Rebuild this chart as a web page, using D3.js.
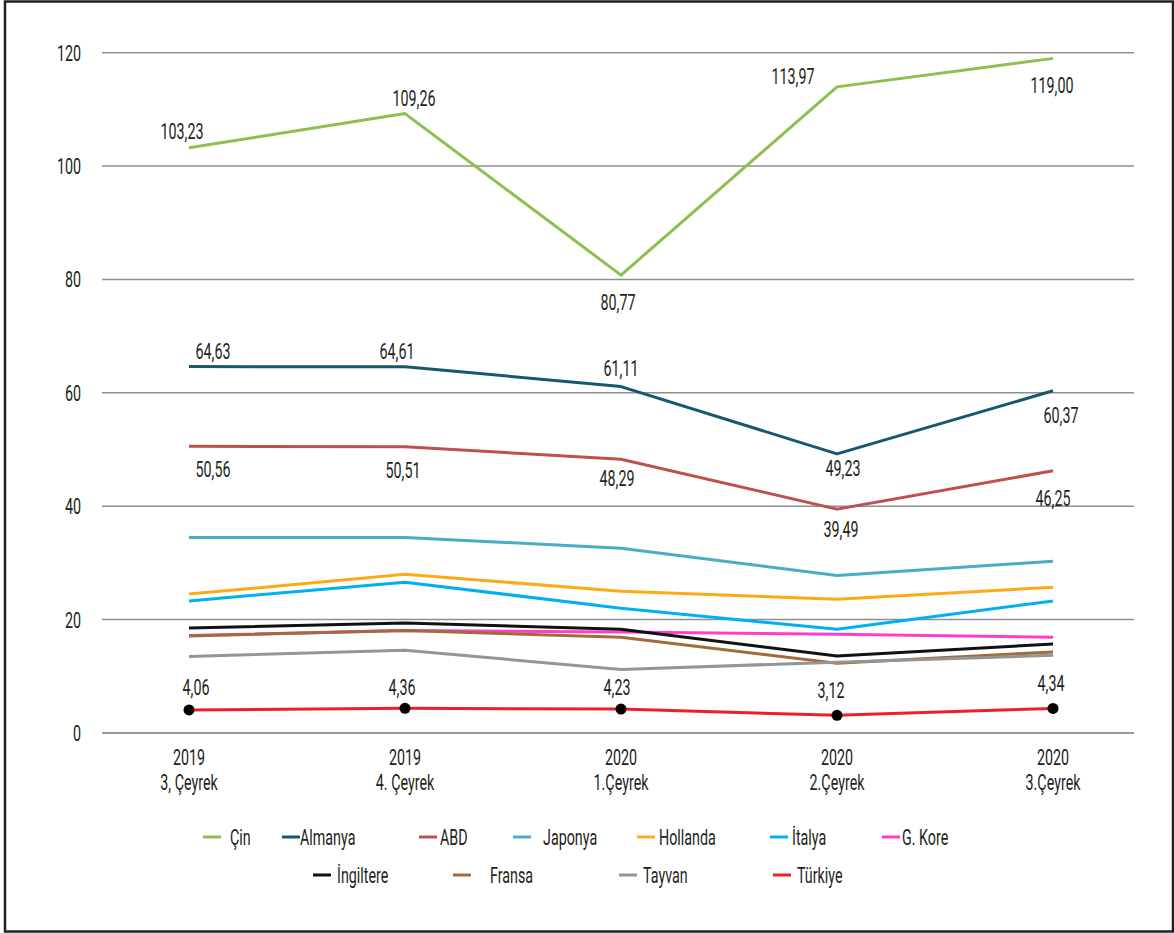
<!DOCTYPE html>
<html>
<head>
<meta charset="utf-8">
<script src="https://cdn.jsdelivr.net/npm/d3@7"></script>
<style>
  html, body { margin: 0; padding: 0; background: #fff; }
  svg { display: block; }
  text { font-family: Roboto, "Liberation Sans", sans-serif; fill: #231f20; }
</style>
</head>
<body>
<svg id="chart" width="1174" height="933"></svg>
<script>
// ---------- DATA ----------
const periods = ["2019|3, Çeyrek", "2019|4. Çeyrek", "2020|1.Çeyrek", "2020|2.Çeyrek", "2020|3.Çeyrek"];
const yTicks = [0, 20, 40, 60, 80, 100, 120];

const cin      = [103.23, 109.26, 80.77, 113.97, 119.00];
const almanya  = [64.63, 64.61, 61.11, 49.23, 60.37];
const abd      = [50.56, 50.51, 48.29, 39.49, 46.25];
const japonya  = [34.5, 34.5, 32.6, 27.8, 30.3];
const hollanda = [24.5, 28.0, 25.0, 23.6, 25.7];
const italya   = [23.3, 26.6, 22.0, 18.3, 23.3];
const gkore    = [17.2, 18.1, 17.8, 17.4, 16.9];
const ingiltere= [18.5, 19.4, 18.3, 13.6, 15.7];
const fransa   = [17.1, 18.1, 16.9, 12.3, 14.3];
const tayvan   = [13.5, 14.6, 11.2, 12.5, 13.7];
const turkiye  = [4.06, 4.36, 4.23, 3.12, 4.34];

const seriesNames = ["Çin", "Almanya", "ABD", "Japonya", "Hollanda", "İtalya", "G. Kore", "İngiltere", "Fransa", "Tayvan", "Türkiye"];
const seriesValues = [cin, almanya, abd, japonya, hollanda, italya, gkore, ingiltere, fransa, tayvan, turkiye];
const labelledSeries = ["Çin", "Almanya", "ABD", "Türkiye"];

// ---------- STYLE / LAYOUT ----------
const colors = {
  "Çin": "#8dc04f", "Almanya": "#17586e", "ABD": "#c0504d", "Japonya": "#4bacc6",
  "Hollanda": "#fbab18", "İtalya": "#00b0f0", "G. Kore": "#ff3ccc", "İngiltere": "#111111",
  "Fransa": "#a36a3a", "Tayvan": "#959595", "Türkiye": "#ed2024"
};
// label offsets (px) relative to each point: [dx, dy of text centre]
const labelOffsets = {
  "Çin":     [[-7,-17],[9,-16],[-3,27],[-44,-11],[-1,27]],
  "Almanya": [[24,-16],[-8,-16],[0,-18],[6,14],[8,24]],
  "ABD":     [[24,23],[-2,23],[-4,19],[4,20],[0,27]],
  "Türkiye": [[7,-23],[-3,-21],[-4,-22],[-6,-25],[-2,-25]]
};
const legendLayout = [
  {name:"Çin", lx:203, tx:230, row:0},
  {name:"Almanya", lx:282, tx:300, row:0},
  {name:"ABD", lx:419, tx:440, row:0},
  {name:"Japonya", lx:513, tx:543, row:0},
  {name:"Hollanda", lx:637, tx:659, row:0},
  {name:"İtalya", lx:770, tx:792, row:0},
  {name:"G. Kore", lx:882, tx:902, row:0},
  {name:"İngiltere", lx:313, tx:337, row:1},
  {name:"Fransa", lx:453, tx:490, row:1},
  {name:"Tayvan", lx:619, tx:643, row:1},
  {name:"Türkiye", lx:773, tx:797, row:1}
];
const rowY = [837, 875];
const FS = 22, SX = 0.65;

const svg = d3.select("#chart");

function addText(parent, x, y, str, anchor) {
  const g = parent.append("g").attr("transform", `translate(${x},${y}) scale(${SX},1)`);
  g.append("text").attr("text-anchor", anchor || "middle").attr("dy", "0.36em")
    .style("font-size", FS + "px").text(str);
  return g;
}

// border
svg.append("rect").attr("x", 5).attr("y", 1.5).attr("width", 1168).attr("height", 930)
  .attr("fill", "none").attr("stroke", "#222").attr("stroke-width", 2.5);

const x = d3.scalePoint().domain(periods).range([189, 1053]);
const y = d3.scaleLinear().domain([0, 120]).range([733, 52.7]);

// gridlines
const grid = svg.append("g");
grid.selectAll("line").data(yTicks).join("line")
  .attr("x1", 102).attr("x2", 1134)
  .attr("y1", d => y(d)).attr("y2", d => y(d))
  .attr("stroke", d => d === 0 ? "#7a7a7a" : "#8f8f8f").attr("stroke-width", 1.5);

// y tick labels
yTicks.forEach(t => addText(svg, 81, y(t), String(t), "end"));

// x labels
periods.forEach(p => {
  const [a, b] = p.split("|");
  addText(svg, x(p), 757, a, "middle");
  addText(svg, x(p), 782, b, "middle");
});

// lines
const line = d3.line().x((d, i) => x(periods[i])).y(d => y(d));
seriesNames.forEach((name, si) => {
  svg.append("path").datum(seriesValues[si])
    .attr("fill", "none").attr("stroke", colors[name]).attr("stroke-width", 3)
    .attr("stroke-linejoin", "round").attr("d", line);
});

// Türkiye markers
svg.append("g").selectAll("circle").data(turkiye).join("circle")
  .attr("cx", (d, i) => x(periods[i])).attr("cy", d => y(d)).attr("r", 5.5).attr("fill", "#000");

// data labels
const fmt = v => v.toFixed(2).replace(".", ",");
labelledSeries.forEach(name => {
  const vals = seriesValues[seriesNames.indexOf(name)];
  vals.forEach((v, i) => {
    const [dx, dy] = labelOffsets[name][i];
    addText(svg, x(periods[i]) + dx, y(v) + dy, fmt(v), "middle");
  });
});

// legend
legendLayout.forEach(l => {
  const yy = rowY[l.row];
  svg.append("line").attr("x1", l.lx).attr("x2", l.lx + 18).attr("y1", yy).attr("y2", yy)
    .attr("stroke", colors[l.name]).attr("stroke-width", 3);
  addText(svg, l.tx, yy, l.name, "start");
});
</script>
</body>
</html>
